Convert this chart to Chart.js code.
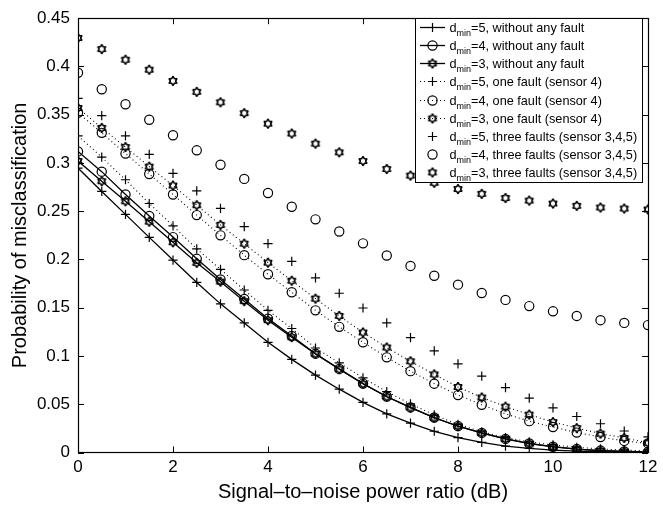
<!DOCTYPE html>
<html>
<head>
<meta charset="utf-8">
<script src="https://cdn.jsdelivr.net/npm/chart.js@4.4.1/dist/chart.umd.min.js"></script>
<style>
  html, body { margin: 0; padding: 0; background: #fff; }
  #wrap { width: 663px; height: 508px; }
</style>
</head>
<body>
<div id="wrap"><canvas id="myChart" width="663" height="508"></canvas></div>
<script>
// SNR in dB
const snr = [0, 0.5, 1, 1.5, 2, 2.5, 3, 3.5, 4, 4.5, 5, 5.5, 6, 6.5, 7, 7.5, 8, 8.5, 9, 9.5, 10, 10.5, 11, 11.5, 12];

// without any fault (solid)
const d5NoFault = [0.2947, 0.2705, 0.2467, 0.2229, 0.1994, 0.1762, 0.154, 0.1343, 0.1142, 0.0965, 0.0802, 0.0656, 0.0519, 0.040, 0.0304, 0.022, 0.0155, 0.0104, 0.0066, 0.0042, 0.0025, 0.0014, 0.0008, 0.0004, 0.0002];
const d4NoFault = [0.312, 0.291, 0.2674, 0.245, 0.2232, 0.2007, 0.1793, 0.159, 0.1387, 0.1207, 0.1024, 0.0866, 0.0714, 0.058, 0.0467, 0.0362, 0.0274, 0.0203, 0.0141, 0.0094, 0.006, 0.0036, 0.002, 0.0011, 0.0006];
const d3NoFault = [0.302, 0.2811, 0.2603, 0.2392, 0.2178, 0.1965, 0.177, 0.1568, 0.1371, 0.1195, 0.1022, 0.0862, 0.0712, 0.0578, 0.0465, 0.036, 0.0272, 0.0201, 0.014, 0.0093, 0.0059, 0.0035, 0.002, 0.0011, 0.0006];

// one fault, sensor 4 (dotted)
const d5OneFault = [0.328, 0.306, 0.2826, 0.258, 0.2348, 0.211, 0.1898, 0.1684, 0.1473, 0.1285, 0.1083, 0.0928, 0.0774, 0.0631, 0.0503, 0.039, 0.0291, 0.0215, 0.0155, 0.011, 0.0078, 0.0054, 0.0037, 0.0025, 0.0017];
const d4OneFault = [0.352, 0.3312, 0.3097, 0.2886, 0.2673, 0.246, 0.225, 0.2045, 0.1847, 0.166, 0.1473, 0.1302, 0.1142, 0.0986, 0.0843, 0.0713, 0.0595, 0.0495, 0.040, 0.0325, 0.0264, 0.0206, 0.0161, 0.012, 0.0094];
const d3OneFault = [0.357, 0.3363, 0.3165, 0.2962, 0.2766, 0.2562, 0.2358, 0.2164, 0.1967, 0.178, 0.1594, 0.1415, 0.1244, 0.1088, 0.0945, 0.0809, 0.0679, 0.057, 0.0475, 0.0393, 0.0315, 0.0253, 0.0196, 0.0151, 0.010];

// three faults, sensors 3,4,5 (markers only)
const d5ThreeFaults = [0.367, 0.349, 0.328, 0.309, 0.2893, 0.271, 0.253, 0.234, 0.2164, 0.198, 0.181, 0.165, 0.1497, 0.1343, 0.119, 0.1054, 0.0918, 0.0792, 0.0673, 0.0564, 0.0462, 0.0373, 0.0298, 0.0223, 0.0162];
const d4ThreeFaults = [0.3935, 0.3764, 0.3608, 0.3448, 0.3287, 0.3131, 0.2981, 0.2835, 0.2689, 0.2546, 0.2416, 0.229, 0.2167, 0.2041, 0.1933, 0.1831, 0.1739, 0.1653, 0.1581, 0.1517, 0.1463, 0.1415, 0.1371, 0.1343, 0.132];
const d3ThreeFaults = [0.4295, 0.418, 0.407, 0.3966, 0.385, 0.3737, 0.3629, 0.3516, 0.3407, 0.3305, 0.320, 0.311, 0.302, 0.2937, 0.2869, 0.2795, 0.273, 0.268, 0.2637, 0.261, 0.258, 0.2556, 0.2538, 0.2528, 0.2518];

const yTicks = [0, 0.05, 0.1, 0.15, 0.2, 0.25, 0.3, 0.35, 0.4, 0.45];
const xTicks = [0, 2, 4, 6, 8, 10, 12];

const legendLabels = [
  ['5', ', without any fault'],
  ['4', ', without any fault'],
  ['3', ', without any fault'],
  ['5', ', one fault (sensor 4)'],
  ['4', ', one fault (sensor 4)'],
  ['3', ', one fault (sensor 4)'],
  ['5', ', three faults (sensor 3,4,5)'],
  ['4', ', three faults (sensor 3,4,5)'],
  ['3', ', three faults (sensor 3,4,5)']
];

const FONT = 'Liberation Sans, Arial, Helvetica, sans-serif';

// matlab style hexagram marker
function makeHexagram(R) {
  const c = document.createElement('canvas');
  const s = Math.ceil(R * 2 + 4);
  c.width = s; c.height = s;
  const g = c.getContext('2d');
  const r = R / Math.sqrt(3);
  g.beginPath();
  for (let k = 0; k < 12; k++) {
    const a = -Math.PI / 2 + k * Math.PI / 6;
    const rad = k % 2 === 0 ? R : r;
    const px = s / 2 + rad * Math.cos(a), py = s / 2 + rad * Math.sin(a);
    k === 0 ? g.moveTo(px, py) : g.lineTo(px, py);
  }
  g.closePath();
  g.strokeStyle = '#000';
  g.lineWidth = 1.6;
  g.lineJoin = 'bevel';
  g.stroke();
  return c;
}
const hexagram = makeHexagram(4.6);

const pts = arr => arr.map((v, i) => ({x: snr[i], y: v}));

function series(data, marker, kind) {
  const ds = {
    data: pts(data),
    borderColor: '#000',
    backgroundColor: 'rgba(0,0,0,0)',
    pointBackgroundColor: 'rgba(0,0,0,0)',
    pointBorderColor: '#000',
    pointBorderWidth: 1.2,
    pointRadius: 4.6,
    pointStyle: marker,
    tension: 0,
    showLine: kind !== 'none',
    borderWidth: kind === 'solid' ? 1.3 : 1.1,
    _kind: kind
  };
  if (kind === 'dot') ds.borderDash = [1, 3];
  return ds;
}

const datasets = [
  series(d5NoFault, 'cross', 'solid'),
  series(d4NoFault, 'circle', 'solid'),
  series(d3NoFault, hexagram, 'solid'),
  series(d5OneFault, 'cross', 'dot'),
  series(d4OneFault, 'circle', 'dot'),
  series(d3OneFault, hexagram, 'dot'),
  series(d5ThreeFaults, 'cross', 'none'),
  series(d4ThreeFaults, 'circle', 'none'),
  series(d3ThreeFaults, hexagram, 'none')
];

// box + inward ticks like matlab
const frame = {
  id: 'frame',
  afterDatasetsDraw(chart) {
    const {ctx, chartArea: a, scales: {x, y}} = chart;
    ctx.save();
    ctx.strokeStyle = '#000';
    ctx.lineWidth = 1;
    ctx.beginPath();
    yTicks.forEach(v => {
      const py = Math.round(y.getPixelForValue(v)) + 0.5;
      ctx.moveTo(a.left, py); ctx.lineTo(a.left + 6, py);
      ctx.moveTo(a.right, py); ctx.lineTo(a.right - 6, py);
    });
    xTicks.forEach(v => {
      const px = Math.round(x.getPixelForValue(v)) + 0.5;
      ctx.moveTo(px, a.bottom); ctx.lineTo(px, a.bottom - 6);
      ctx.moveTo(px, a.top); ctx.lineTo(px, a.top + 6);
    });
    ctx.stroke();
    ctx.lineWidth = 1.2;
    ctx.strokeRect(Math.round(a.left) + 0.5, Math.round(a.top) + 0.5, Math.round(a.right - a.left), Math.round(a.bottom - a.top));
    ctx.restore();
  }
};

function drawMarker(ctx, style, cx, cy, r) {
  if (style === 'cross') {
    ctx.beginPath();
    ctx.moveTo(cx - r, cy); ctx.lineTo(cx + r, cy);
    ctx.moveTo(cx, cy - r); ctx.lineTo(cx, cy + r);
    ctx.stroke();
  } else if (style === 'circle') {
    ctx.beginPath();
    ctx.arc(cx, cy, r, 0, Math.PI * 2);
    ctx.stroke();
  } else {
    ctx.drawImage(style, cx - style.width / 2, cy - style.height / 2);
  }
}

const matlabLegend = {
  id: 'matlabLegend',
  afterDraw(chart) {
    const ctx = chart.ctx;
    const bx = 415, by = 18, bw = 227, bh = 164, row = 18.2;
    ctx.save();
    ctx.fillStyle = '#fff';
    ctx.fillRect(bx, by, bw, bh);
    ctx.strokeStyle = '#000';
    ctx.lineWidth = 1;
    ctx.strokeRect(bx + 0.5, by + 0.5, bw, bh);
    chart.data.datasets.forEach((ds, i) => {
      const cy = Math.round(26.7 + i * row) + 0.5;
      ctx.strokeStyle = '#000';
      ctx.lineWidth = ds.borderWidth;
      if (ds._kind !== 'none') {
        ctx.setLineDash(ds._kind === 'dot' ? [1, 3] : []);
        ctx.beginPath();
        ctx.moveTo(420, cy); ctx.lineTo(445, cy);
        ctx.stroke();
        ctx.setLineDash([]);
      }
      ctx.lineWidth = 1.2;
      drawMarker(ctx, ds.pointStyle, 432.5, cy, 4.6);
      const [dmin, rest] = legendLabels[i];
      ctx.fillStyle = '#000';
      ctx.textBaseline = 'alphabetic';
      ctx.font = '12.7px ' + FONT;
      let tx = 449.5;
      ctx.fillText('d', tx, cy + 4);
      tx += ctx.measureText('d').width;
      ctx.font = '9px ' + FONT;
      ctx.fillText('min', tx, cy + 8.3);
      tx += ctx.measureText('min').width;
      ctx.font = '12.7px ' + FONT;
      ctx.fillText('=' + dmin + rest, tx, cy + 4);
    });
    ctx.restore();
  }
};

const config = {
  type: 'scatter',
  data: {datasets},
  options: {
    responsive: false,
    animation: false,
    devicePixelRatio: 1,
    layout: {padding: {left: 0, right: 15, top: 12, bottom: 0}},
    plugins: {legend: {display: false}, tooltip: {enabled: false}},
    scales: {
      x: {
        type: 'linear', min: 0, max: 12,
        afterFit: s => { s.height = 55.5; },
        afterBuildTicks: s => { s.ticks = xTicks.map(v => ({value: v})); },
        grid: {display: false, drawTicks: false},
        border: {display: false},
        ticks: {color: '#000', font: {family: FONT, size: 17}, padding: 5, maxRotation: 0},
        title: {display: true, text: 'Signal\u2013to\u2013noise power ratio (dB)', color: '#000',
                font: {family: FONT, size: 20}, padding: {top: 0, bottom: 4}}
      },
      y: {
        type: 'linear', min: 0, max: 0.45,
        afterFit: s => { s.width = 78; },
        afterBuildTicks: s => { s.ticks = yTicks.map(v => ({value: v})); },
        grid: {display: false, drawTicks: false},
        border: {display: false},
        ticks: {color: '#000', font: {family: FONT, size: 17}, padding: 8,
                callback: v => String(+v.toFixed(2))},
        title: {display: true, text: 'Probability of misclassification', color: '#000',
                font: {family: FONT, size: 20}, padding: {top: 8, bottom: 0}}
      }
    }
  },
  plugins: [frame, matlabLegend]
};

const chart = new Chart(document.getElementById('myChart'), config);
</script>
</body>
</html>
